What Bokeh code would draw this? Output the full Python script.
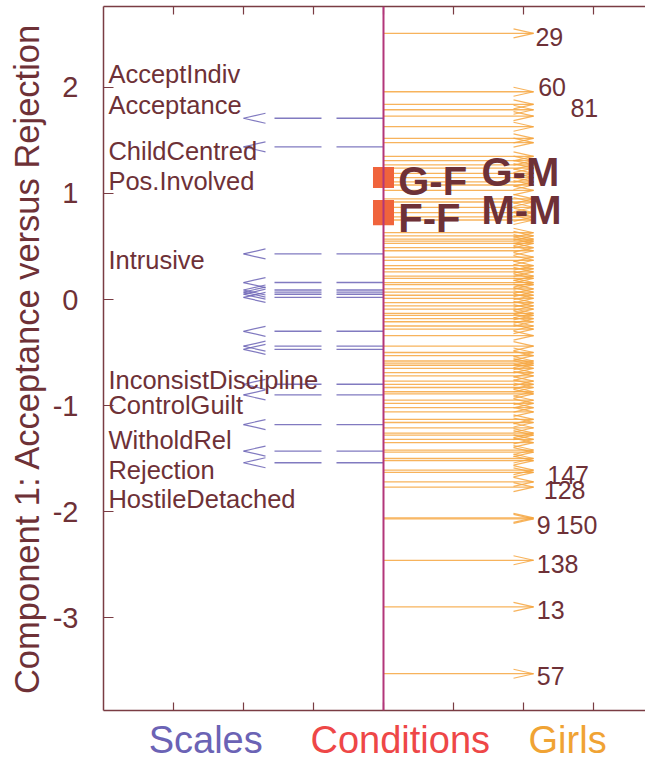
from bokeh.plotting import figure
from bokeh.layouts import column
from bokeh.models import Range1d, LinearAxis, FixedTicker, Span
from bokeh.embed import file_html
from bokeh.resources import INLINE
from bokeh.core.properties import value

# ---------------- data ----------------
scale_names = ["AcceptIndiv", "Acceptance", "ChildCentred", "Pos.Involved", "Intrusive",
               "InconsistDiscipline", "ControlGuilt", "WitholdRel", "Rejection", "HostileDetached"]
scale_label_y = [2.05, 1.76, 1.32, 1.04, 0.30, -0.84, -1.075, -1.40, -1.69, -1.96]
scale_values = [1.71, 1.44, 0.43, 0.16, 0.09, 0.07, 0.05, 0.02,
                -0.30, -0.44, -0.47, -0.80, -0.90, -1.18, -1.43, -1.54]

conditions = ["G-F", "G-M", "F-F", "M-M"]
condition_values = [1.15, 1.15, 0.84, 0.80]
condition_label_x = [0.21, 1.40, 0.21, 1.40]
condition_label_y = [1.00, 1.085, 0.65, 0.725]

girl_values = [2.51, 1.96, 1.84, 1.79, 1.73, 1.63, 1.52, 1.48, 1.35, 1.31, 1.27, 1.24,
               1.19, 1.15, 1.11, 1.08, 1.03, 0.95, 0.92, 0.87, 0.82, 0.78, 0.75, 0.63,
               0.60, 0.57, 0.55, 0.53, 0.49, 0.46, 0.40, 0.37, 0.32, 0.29, 0.26, 0.22,
               0.20, 0.16, 0.14, 0.10, 0.07, 0.04, 0.01, -0.03, -0.06, -0.09, -0.13,
               -0.15, -0.18, -0.21, -0.25, -0.28, -0.34, -0.44, -0.50, -0.53, -0.58,
               -0.60, -0.62, -0.65, -0.69, -0.72, -0.77, -0.80, -0.83, -0.87, -0.89,
               -0.95, -0.98, -1.02, -1.06, -1.13, -1.16, -1.21, -1.26, -1.28, -1.32,
               -1.35, -1.42, -1.44, -1.50, -1.52, -1.61, -1.63, -1.72, -1.77, -2.06,
               -2.07, -2.46, -2.90, -3.53]
girl_labels = ["29", "60", "81", "147", "128", "9", "150", "138", "13", "57"]
girl_label_x = [2.17, 2.21, 2.67, 2.34, 2.29, 2.19, 2.46, 2.19, 2.19, 2.19]
girl_label_y = [2.40, 1.925, 1.735, -1.735, -1.875, -2.20, -2.20, -2.575, -3.00, -3.63]

group_names = ["Scales", "Conditions", "Girls"]
group_x = [-2.54, 0.24, 2.63]

# ---------------- style ----------------
TXT = "#6E3137"
AXC = "#7A3C43"
BLUE = "#6B63B5"
ORANGE = "#F6A640"
SQ = "#F0643C"
VLINE = "#B3367A"
group_colors = [BLUE, "#EE4747", "#F0A334"]
FONT = "Liberation Sans"

scale_tip = -2.0
girl_tip = 2.143
px_x = 1 / 70.0
px_y = 1 / 106.0


def lift(vals, fs):
    # the svg text glyph lands its baseline ~0.32 em lower; compensate
    return [v + 0.32 * fs * px_y for v in vals]


xr = Range1d(-4.0, 3.743)
p = figure(width=645, height=712, x_range=xr, y_range=Range1d(-3.877, 2.764),
           output_backend="svg", toolbar_location=None, x_axis_type=None, y_axis_type=None,
           min_border_left=103, min_border_right=0, min_border_top=6, min_border_bottom=2)
p.outline_line_color = None
p.background_fill_color = "white"

# axes
xticks = [-3, -2, -1, 0, 1, 2, 3]
for loc in ["below", "above"]:
    ax = LinearAxis(ticker=FixedTicker(ticks=xticks), major_tick_in=8, major_tick_out=0,
                    minor_tick_line_color=None,
                    major_label_overrides={t: "" for t in xticks}, major_label_standoff=0,
                    major_label_text_font_size="1px",
                    axis_line_color=AXC, major_tick_line_color=AXC, axis_line_width=1.5,
                    major_tick_line_width=1.2)
    p.add_layout(ax, loc)

yticks = [-3, -2, -1, 0, 1, 2]
ay = LinearAxis(ticker=FixedTicker(ticks=yticks), major_tick_in=10, major_tick_out=0,
                minor_tick_line_color=None, axis_line_color=AXC, major_tick_line_color=AXC,
                axis_line_width=1.5, major_tick_line_width=1.2,
                major_label_overrides={t: str(t) for t in yticks},
                major_label_text_font_size="29px", major_label_text_color=TXT,
                major_label_text_font=FONT, major_label_standoff=25,
                axis_label="Component 1: Acceptance versus Rejection",
                axis_label_text_font_size="34.5px", axis_label_text_font_style="normal",
                axis_label_text_color=TXT, axis_label_text_font=FONT, axis_label_standoff=4)
p.add_layout(ay, "left")

# girls arrows
n = len(girl_values)
p.segment(x0=[0] * n, y0=girl_values, x1=[girl_tip] * n, y1=girl_values,
          line_color=ORANGE, line_width=1.3, line_alpha=0.85)
hx = [girl_tip - 20 * px_x] * n
p.segment(x0=hx, y0=[v + 4.5 * px_y for v in girl_values], x1=[girl_tip] * n, y1=girl_values,
          line_color=ORANGE, line_width=1.2, line_alpha=0.85)
p.segment(x0=hx, y0=[v - 4.5 * px_y for v in girl_values], x1=[girl_tip] * n, y1=girl_values,
          line_color=ORANGE, line_width=1.2, line_alpha=0.85)

# scale arrows
m = len(scale_values)
base = scale_tip + 22 * px_x
p.segment(x0=[0] * m, y0=scale_values, x1=[base] * m, y1=scale_values,
          line_color=BLUE, line_width=1.4, line_dash="47 15", line_alpha=0.85)
p.segment(x0=[base] * m, y0=[v + 5 * px_y for v in scale_values], x1=[scale_tip] * m, y1=scale_values,
          line_color=BLUE, line_width=1.2, line_alpha=0.85)
p.segment(x0=[base] * m, y0=[v - 5 * px_y for v in scale_values], x1=[scale_tip] * m, y1=scale_values,
          line_color=BLUE, line_width=1.2, line_alpha=0.85)

# conditions
p.scatter(x=[0] * len(conditions), y=condition_values, marker="square", size=21,
          fill_color=SQ, line_color=None)
p.add_layout(Span(location=0, dimension="height", line_color=VLINE, line_width=2))

# texts
p.text(x=[-3.93] * len(scale_names), y=lift(scale_label_y, 25.5), text=scale_names,
       text_font=value(FONT), text_font_size="25.5px", text_color=TXT,
       text_baseline="alphabetic", text_align="left")
p.text(x=condition_label_x, y=lift(condition_label_y, 40), text=conditions,
       text_font=value(FONT), text_font_size="40px", text_font_style="bold", text_color=TXT,
       text_baseline="alphabetic", text_align="left")
p.text(x=girl_label_x, y=lift(girl_label_y, 25), text=girl_labels,
       text_font=value(FONT), text_font_size="25px", text_color=TXT,
       text_baseline="alphabetic", text_align="left")

# group labels underneath the plot (shared x scale)
q = figure(width=645, height=52, x_range=xr, y_range=Range1d(0, 52),
           output_backend="svg", toolbar_location=None, x_axis_type=None, y_axis_type=None,
           min_border_left=103, min_border_right=0, min_border_top=0, min_border_bottom=0)
q.outline_line_color = None
q.grid.visible = False
q.text(x=group_x, y=[12 + 0.32 * 38] * len(group_x), text=group_names, text_color=group_colors,
       text_font=value(FONT), text_font_size="38px", text_align="center",
       text_baseline="alphabetic")

layout = column(p, q, spacing=0)
open("out.html", "w").write(file_html(layout, INLINE))
